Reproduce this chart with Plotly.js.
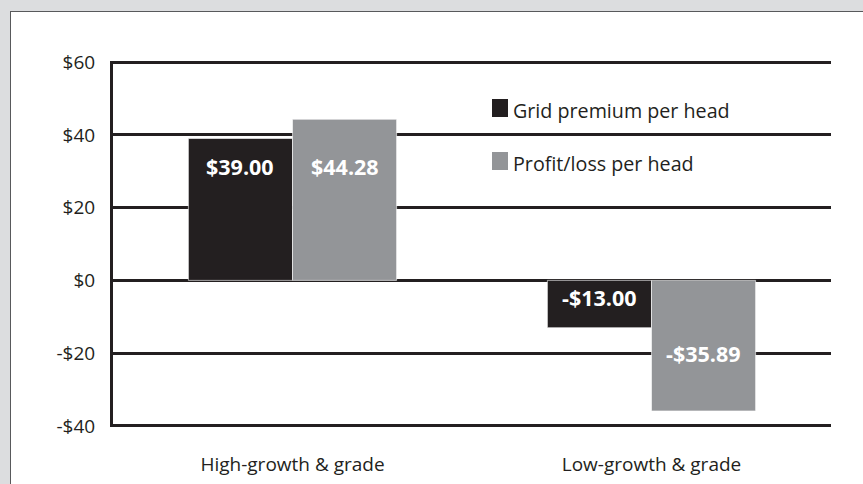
<!DOCTYPE html>
<html>
<head>
<meta charset="utf-8">
<script src="https://cdn.plot.ly/plotly-3.0.1.min.js"></script>
<style>
  html, body { margin: 0; padding: 0; background: #dcdddf; width: 863px; height: 484px; overflow: hidden; }
  #panel { position: absolute; left: 10px; top: 11px; width: 900px; height: 500px; background: #ffffff; border: 1px solid #58595b; }
  #chart { position: absolute; left: 0; top: 0; width: 863px; height: 484px; }
</style>
</head>
<body>
<div id="panel"></div>
<div id="chart"></div>
<script>
// ---- data ----
const categories = ["High-growth & grade", "Low-growth & grade"];
const seriesNames = ["Grid premium per head", "Profit/loss per head"];
const gridPremium = [39.00, -13.00];
const profitLoss = [44.28, -35.89];
const tickValues = [-40, -20, 0, 20, 40, 60];
const tickLabels = ["-$40", "-$20", "$0", "$20", "$40", "$60"];
const seriesColors = ["#231f20", "#939598"];

// ---- layout constants ----
const W = 863, H = 484;
const M = { l: 113, r: 32, t: 61, b: 57 };
const plotW = W - M.l - M.r, plotH = H - M.t - M.b;
const px2x = p => (p - M.l) / plotW;
const px2y = p => (H - M.b - p) / plotH;
const bargap = 0.42;
const ink = "#231f20";
const yMin = -40.3, yMax = 60.3;

const seriesValues = [gridPremium, profitLoss];
const fmt = v => (v < 0 ? "-$" : "$") + Math.abs(v).toFixed(2);

const traces = seriesValues.map((vals, i) => ({
  type: "bar",
  name: seriesNames[i],
  x: categories,
  y: vals,
  marker: { color: seriesColors[i], line: { color: "#ffffff", width: 0.6 } },
  hoverinfo: "skip",
  showlegend: false
}));

// value labels inside the bars
const barW = (1 - bargap) / seriesValues.length;
const annotations = [];
seriesValues.forEach((vals, i) => {
  const off = -((1 - bargap) / 2) + barW * (i + 0.5);
  vals.forEach((v, j) => {
    let ly;
    if (v > 0) ly = 31.3;
    else if (v >= -20) ly = -4.7;
    else ly = v * 0.56;
    annotations.push({
      xref: "x", yref: "y", x: j + off, y: ly,
      text: "<b>" + fmt(v) + "</b>",
      showarrow: false, xanchor: "center", yanchor: "middle",
      font: { family: "Open Sans, sans-serif", size: 21.5, color: "#ffffff" }
    });
  });
});

// custom legend
const legendTop = [99, 152];
const shapes = [];
seriesNames.forEach((n, i) => {
  shapes.push({
    type: "rect", xref: "paper", yref: "paper",
    x0: px2x(492), x1: px2x(508),
    y0: px2y(legendTop[i] + 18), y1: px2y(legendTop[i]),
    fillcolor: seriesColors[i], line: { width: 0 }
  });
  annotations.push({
    xref: "paper", yref: "paper", x: px2x(511), y: px2y(legendTop[i] + 11),
    text: n, showarrow: false, xanchor: "left", yanchor: "middle",
    font: { family: "Open Sans, sans-serif", size: 19.7, color: ink }
  });
});

const layout = {
  width: W, height: H,
  margin: M,
  paper_bgcolor: "rgba(0,0,0,0)",
  plot_bgcolor: "rgba(0,0,0,0)",
  barmode: "group",
  bargap: bargap,
  bargroupgap: 0,
  showlegend: false,
  xaxis: {
    type: "category",
    showgrid: false, zeroline: false, showline: false,
    ticks: "", ticklabelstandoff: 24,
    tickfont: { family: "Open Sans, sans-serif", size: 19, color: ink },
    fixedrange: true
  },
  yaxis: {
    range: [yMin, yMax],
    tickvals: tickValues, ticktext: tickLabels,
    showgrid: true, gridcolor: ink, gridwidth: 3,
    zeroline: true, zerolinecolor: ink, zerolinewidth: 3,
    showline: true, linecolor: ink, linewidth: 3,
    ticks: "", ticklabelstandoff: 11,
    tickfont: { family: "Open Sans, sans-serif", size: 19, color: ink },
    fixedrange: true
  },
  shapes: shapes,
  annotations: annotations
};

Plotly.newPlot("chart", traces, layout, { displayModeBar: false, staticPlot: true });
</script>
</body>
</html>
